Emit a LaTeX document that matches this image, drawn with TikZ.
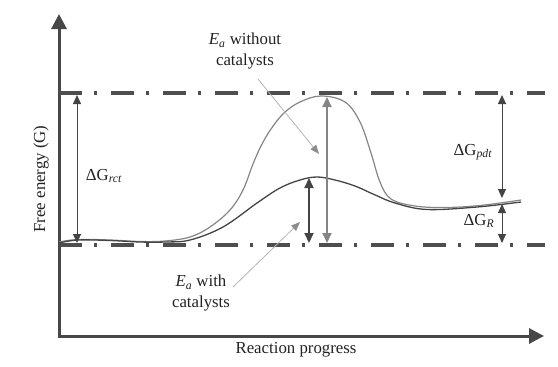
\documentclass[tikz,border=0pt]{standalone}
\usepackage{fontspec}
\setmainfont{Liberation Serif}
\usetikzlibrary{arrows.meta}
\definecolor{axisc}{HTML}{474747}
\definecolor{dashc}{HTML}{4E4E4E}
\definecolor{uncatc}{HTML}{858585}
\definecolor{catc}{HTML}{444444}
\definecolor{pointc}{HTML}{B4B4B4}
\definecolor{pointhead}{HTML}{8C8C8C}
\definecolor{textc}{HTML}{222222}
\tikzset{
  axisline/.style={draw=axisc, line width=3pt, line join=miter},
  dashdot/.style={draw=dashc, line width=3.8pt, dash pattern=on 23pt off 12pt on 3pt off 14pt},
  uncat/.style={draw=uncatc, line width=1.2pt},
  catline/.style={draw=catc, line width=1.3pt},
  dimarrow/.style={draw=catc, line width=1pt, {Triangle[length=9pt,width=8pt]}-{Triangle[length=9pt,width=8pt]}},
  eaunc/.style={draw=uncatc, line width=1.8pt, {Triangle[length=10pt,width=9pt]}-{Triangle[length=10pt,width=9pt]}},
  eacat/.style={draw=catc, line width=2pt, {Triangle[length=10pt,width=9pt]}-{Triangle[length=10pt,width=9pt]}},
  pointer/.style={draw=pointc, line width=0.8pt, -{Triangle[length=9pt,width=7pt,color=pointhead,fill=pointhead]}},
  lbl/.style={text=textc, inner sep=0pt, align=center, font=\fontsize{16.8}{20.5}\selectfont}
}
\begin{document}
\begin{tikzpicture}[x=1pt,y=-1pt]
\useasboundingbox (0,0) rectangle (558,367);
% axes
\coordinate (O) at (59,336);
\coordinate (Ytop) at (59,14);
\coordinate (Xend) at (544,336);
\draw[axisline, {Triangle[length=15pt,width=15pt]}-{Triangle[length=15pt,width=15pt]}] (Ytop) -- (O) -- (Xend);
% dash-dot levels
\coordinate (TL) at (59,93);
\coordinate (TR) at (545,93);
\coordinate (BL) at (59,245);
\coordinate (BR) at (545,245);
\draw[dashdot] (TL) -- (TR);
\draw[dashdot] (BL) -- (BR);
% curves
\draw[uncat] plot[smooth, tension=0.6] coordinates {(59,242) (78,239.5) (110,240) (140,241.5) (165,241) (190,237) (210,227) (230,210) (243,190) (253,164) (261,146) (271,129) (284,113) (300,102) (321,96) (345,102) (360,122) (371,153) (380,182) (391,199) (415,206) (445,207.5) (480,205.5) (521,200)};
\draw[catline] plot[smooth, tension=0.6] coordinates {(59,243) (78,240) (110,240.5) (140,242) (165,242) (190,240) (223,227) (257,203) (280,188) (300,180) (317,177) (335,180) (355,186) (373,194) (395,203) (427,209.5) (477,207) (521,202)};
% dimension arrows
\coordinate (rctT) at (77,95);
\coordinate (rctB) at (77,243);
\draw[dimarrow, line width=0.8pt] (rctT) -- (rctB);
\coordinate (eaUT) at (327,97);
\coordinate (eaUB) at (327,243);
\draw[eaunc] (eaUT) -- (eaUB);
\coordinate (eaCT) at (309,178);
\coordinate (eaCB) at (309,243);
\draw[eacat] (eaCT) -- (eaCB);
\coordinate (pdtT) at (502,95);
\coordinate (pdtB) at (502,198);
\draw[dimarrow] (pdtT) -- (pdtB);
\coordinate (rT) at (502,204);
\coordinate (rB) at (502,243);
\draw[dimarrow] (rT) -- (rB);
% labels
\node[lbl, rotate=90] (ylab) at (41,179) {Free energy (G)};
\node[lbl] (xlab) at (296,350) {Reaction progress};
\node[lbl] (grct) at (104,176) {ΔG\textsubscript{\textit{rct}}};
\node[lbl] (gpdt) at (473,152) {ΔG\textsubscript{\textit{pdt}}};
\node[lbl] (gr) at (479,221) {ΔG\textsubscript{\textit{R}}};
\node[lbl] (without) at (245,51) {\textit{E}\textsubscript{\textit{a}} without\\catalysts};
\node[lbl] (with) at (201,293) {\textit{E}\textsubscript{\textit{a}} with\\catalysts};
% pointers
\coordinate (pA) at (258,79);
\coordinate (pAt) at (319,154);
\draw[pointer] (pA) -- (pAt);
\coordinate (pB) at (233,287);
\coordinate (pBt) at (300,222);
\draw[pointer] (pB) -- (pBt);
\end{tikzpicture}
\end{document}
